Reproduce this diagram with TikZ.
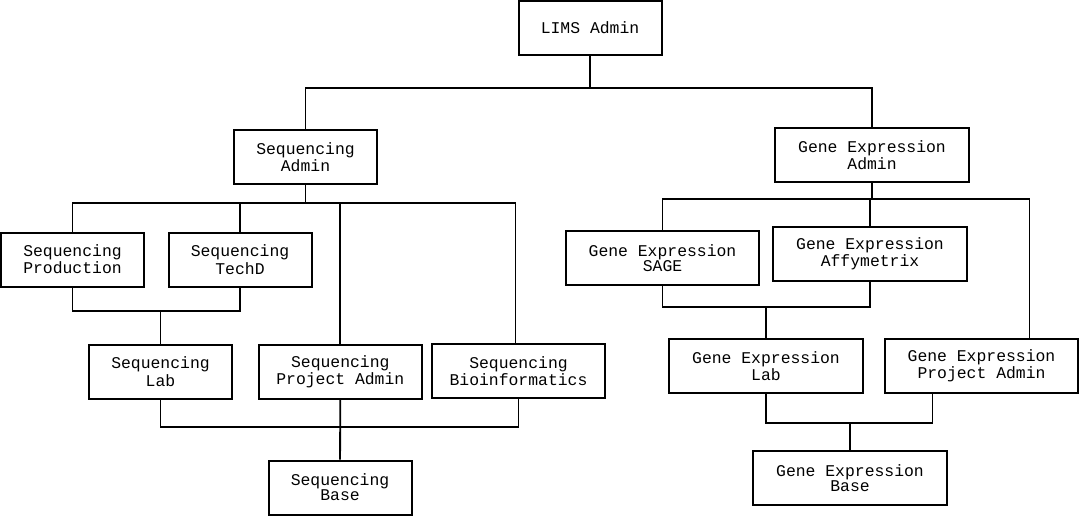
\documentclass[tikz,border=0pt]{standalone}
\usepackage{fontspec}
\setmonofont{Liberation Mono}
\tikzset{
    unit/.style={draw, line width=1pt, minimum width=71.5pt, minimum height=27pt,
        inner sep=0pt, align=center, font=\ttfamily\fontsize{8.2}{7.6}\selectfont},
    geunit/.style={unit, minimum width=96.75pt},
    link/.style={line width=0.9pt},
}

\begin{document}
\begin{tikzpicture}[x=0.5pt, y=-0.5pt]
\useasboundingbox (0,0) rectangle (1080,515);

% Top level
\node[unit] (lims) at (590,28) {LIMS Admin};

% Sequencing branch
\node[unit] (seqadmin) at (305.5,157) {Sequencing\\Admin};
\node[unit] (seqprod) at (72.5,259.5) {Sequencing\\Production};
\node[unit] (seqtech) at (240,259.5) {Sequencing\\TechD};
\node[unit] (seqlab) at (160.5,371.5) {Sequencing\\Lab};
\node[unit, minimum width=81.7pt] (seqproj) at (340.3,371.5) {Sequencing\\Project Admin};
\node[unit, minimum width=86.5pt] (seqbio) at (518.5,371) {Sequencing\\Bioinformatics};
\node[unit] (seqbase) at (340,487.5) {Sequencing\\Base};

% Gene expression branch
\node[geunit] (geadmin) at (872,155) {Gene Expression\\Admin};
\node[geunit] (gesage) at (662.5,258) {Gene Expression\\SAGE};
\node[geunit] (geaffy) at (870,254) {Gene Expression\\Affymetrix};
\node[geunit] (gelab) at (766,366) {Gene Expression\\Lab};
\node[geunit] (geproj) at (981.5,366) {Gene Expression\\Project Admin};
\node[geunit] (gebase) at (850,478) {Gene Expression\\Base};

% Connectors: top
\coordinate (topbus) at (590,88);
\draw[link] (lims) -- (topbus);
\draw[link] (topbus) -| (seqadmin);
\draw[link] (topbus) -| (geadmin);

% Connectors: sequencing
\coordinate (seqbus) at (305.5,203);
\draw[link] (seqadmin) -- (seqbus);
\draw[link] (seqbus) -| (seqprod);
\draw[link] (seqbus) -| (seqtech);
\draw[link] (seqbus) -| (seqproj);
\draw[link] (seqbus) -| ([xshift=-1.5pt]seqbio.north);
\coordinate (labbus) at (160.5,311);
\draw[link] (seqprod) |- (labbus) -| (seqtech);
\draw[link] (labbus) -- (seqlab);
\coordinate (basebus) at (340.3,427);
\draw[link] (seqlab) |- (basebus) -| (seqbio);
\draw[link] (seqproj) -- (seqbase);

% Connectors: gene expression
\coordinate (gebus) at (872,199);
\draw[link] (geadmin) -- (gebus);
\draw[link] (gebus) -| (gesage);
\draw[link] (gebus) -| (geaffy);
\draw[link] (gebus) -| ([xshift=24pt]geproj.north);
\coordinate (gelabbus) at (766,307);
\draw[link] (gesage) |- (gelabbus) -| (geaffy);
\draw[link] (gelabbus) -- (gelab);
\coordinate (gebasebus) at (850,423);
\draw[link] (gelab) |- (gebasebus) -| ([xshift=-24.5pt]geproj.south);
\draw[link] (gebasebus) -- (gebase);

\end{tikzpicture}
\end{document}
